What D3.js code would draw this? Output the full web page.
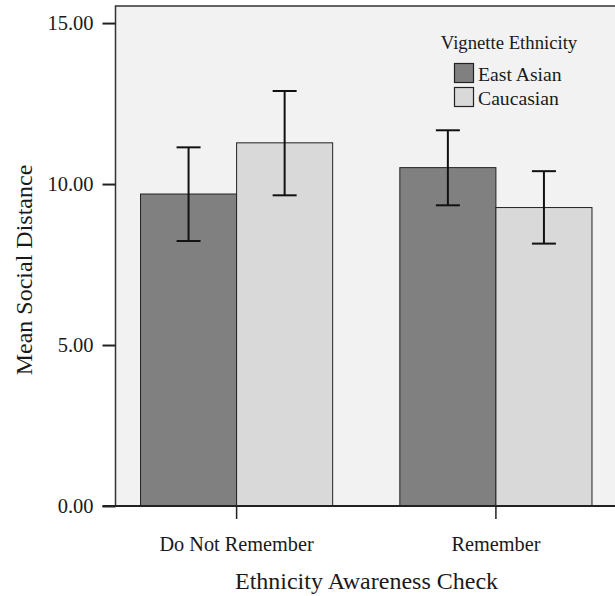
<!DOCTYPE html>
<html>
<head>
<meta charset="utf-8">
<script src="https://cdn.jsdelivr.net/npm/d3@7"></script>
<style>
  body { margin: 0; background: #fff; }
  svg text { font-family: "Liberation Serif", "DejaVu Serif", serif !important; fill: #1a1a1a; }
</style>
</head>
<body>
<div class="chart"></div>
<script>
// data
var categories = ["Do Not Remember", "Remember"];
var series = ["East Asian", "Caucasian"];
var means = [[9.69, 11.28], [10.51, 9.27]];
var errLow = [[8.23, 9.65], [9.34, 8.15]];
var errHigh = [[11.14, 12.89], [11.67, 10.40]];
var yTicks = [0, 5, 10, 15];
var colors = ["#808080", "#d9d9d9"];

var serif = "'Liberation Serif', 'DejaVu Serif', serif";

var svgWidth = 615;
var svgHeight = 596;
var margin = { top: 6, right: -2, bottom: 90, left: 115.5 };
var width = svgWidth - margin.left - margin.right;
var height = svgHeight - margin.top - margin.bottom;

var svg = d3.select(".chart")
  .append("svg")
  .attr("width", svgWidth)
  .attr("height", svgHeight)
  .attr("font-family", serif);

var chart = svg.append("g")
  .attr("transform", "translate(" + margin.left + "," + margin.top + ")");

// scales
var yScale = d3.scaleLinear().domain([0, 15.53]).range([height, 0]);
var x0 = d3.scaleBand().domain(categories).range([0, width])
  .paddingInner(0.259).paddingOuter(0.0965);
var x1 = d3.scaleBand().domain(series).range([0, x0.bandwidth()]);

// plot background + frame
chart.append("rect")
  .attr("width", width)
  .attr("height", height)
  .attr("fill", "#f2f2f2")
  .attr("stroke", "#333")
  .attr("stroke-width", 1.5);

// bars
var groups = chart.selectAll(".grp")
  .data(categories)
  .enter()
  .append("g")
  .attr("class", "grp")
  .attr("transform", function(d) { return "translate(" + x0(d) + ",0)"; });

groups.each(function(cat, i) {
  var g = d3.select(this);
  series.forEach(function(s, j) {
    g.append("rect")
      .attr("x", x1(s))
      .attr("y", yScale(means[i][j]))
      .attr("width", x1.bandwidth())
      .attr("height", height - yScale(means[i][j]))
      .attr("fill", colors[j])
      .attr("stroke", "#222")
      .attr("stroke-width", 1);
  });
});

// error bars
groups.each(function(cat, i) {
  var g = d3.select(this);
  series.forEach(function(s, j) {
    var cx = x1(s) + x1.bandwidth() / 2;
    var lo = yScale(errLow[i][j]);
    var hi = yScale(errHigh[i][j]);
    g.append("line")
      .attr("x1", cx).attr("x2", cx).attr("y1", lo).attr("y2", hi)
      .attr("stroke", "#111").attr("stroke-width", 2);
    [lo, hi].forEach(function(yy) {
      g.append("line")
        .attr("x1", cx - 12).attr("x2", cx + 12).attr("y1", yy).attr("y2", yy)
        .attr("stroke", "#111").attr("stroke-width", 2);
    });
  });
});

// y axis
var leftAxis = d3.axisLeft(yScale)
  .tickValues(yTicks)
  .tickSize(13)
  .tickPadding(9)
  .tickFormat(d3.format(".2f"));

var yAxisG = chart.append("g").call(leftAxis).attr("font-family", serif);
yAxisG.select(".domain").remove();
yAxisG.selectAll(".tick line").attr("stroke", "#222").attr("stroke-width", 2);
yAxisG.selectAll("text")
  .attr("font-size", 20.5)
  .attr("fill", "#1a1a1a");

// x axis
var bottomAxis = d3.axisBottom(x0).tickSize(13).tickPadding(18);
var xAxisG = chart.append("g")
  .attr("transform", "translate(0," + height + ")")
  .call(bottomAxis)
  .attr("font-family", serif);
xAxisG.select(".domain").remove();
xAxisG.selectAll(".tick line").attr("stroke", "#222").attr("stroke-width", 1.5);
xAxisG.selectAll("text")
  .attr("font-size", 20.3)
  .attr("fill", "#1a1a1a");

// baseline
chart.append("line")
  .attr("x1", -13).attr("x2", width)
  .attr("y1", height).attr("y2", height)
  .attr("stroke", "#222").attr("stroke-width", 2);

// axis titles
chart.append("text")
  .attr("transform", "rotate(-90)")
  .attr("x", -264)
  .attr("y", -83.5)
  .attr("text-anchor", "middle")
  .attr("font-size", 24)
  .text("Mean Social Distance");

chart.append("text")
  .attr("x", 251)
  .attr("y", height + 83)
  .attr("text-anchor", "middle")
  .attr("font-size", 24)
  .text("Ethnicity Awareness Check");

// legend
var legend = svg.append("g").attr("transform", "translate(454,0)");
legend.append("text")
  .attr("x", 55)
  .attr("y", 49)
  .attr("text-anchor", "middle")
  .attr("font-size", 18.7)
  .text("Vignette Ethnicity");

series.forEach(function(s, j) {
  legend.append("rect")
    .attr("x", 0.5)
    .attr("y", 63.5 + j * 24)
    .attr("width", 19)
    .attr("height", 19)
    .attr("fill", colors[j])
    .attr("stroke", "#222")
    .attr("stroke-width", 1.2);
  legend.append("text")
    .attr("x", 24)
    .attr("y", 81 + j * 24)
    .attr("font-size", 19.7)
    .text(s);
});
</script>
</body>
</html>
